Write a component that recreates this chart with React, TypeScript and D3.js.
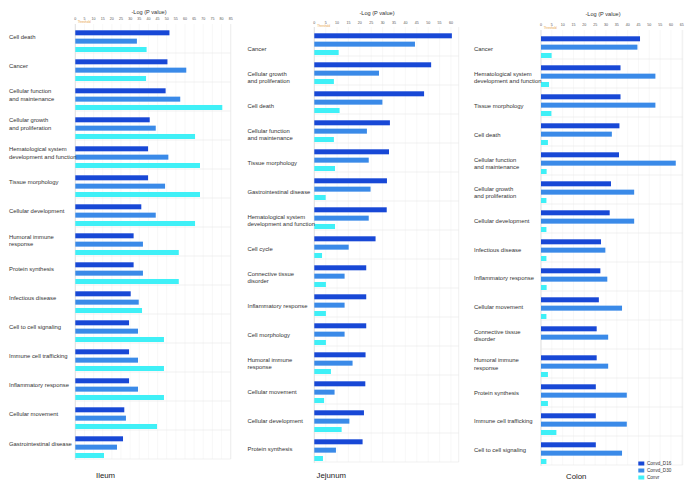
import React from 'react';
import * as d3 from 'd3';

const seriesNames = ['Convd_D16', 'Convd_D30', 'Convr'];
const seriesColors = ['#1848d6', '#3a8ae8', '#3ff0f7'];

const ileumCategories = [
  'Cell death', 'Cancer', 'Cellular function\nand maintenance', 'Cellular growth\nand proliferation',
  'Hematological system\ndevelopment and function', 'Tissue morphology', 'Cellular development',
  'Humoral immune\nresponse', 'Protein synthesis', 'Infectious disease', 'Cell to cell signaling',
  'Immune cell trafficking', 'Inflammatory response', 'Cellular movement', 'Gastrointestinal disease',
];
const ileumD16 = [51.5, 50.4, 49.4, 40.7, 39.8, 39.8, 36.1, 31.9, 31.9, 30.3, 29.4, 29.4, 29.4, 26.8, 26.1];
const ileumD30 = [33.7, 60.7, 57.4, 44.0, 50.9, 49.1, 44.0, 37.0, 37.0, 34.7, 34.3, 34.3, 34.3, 27.7, 22.8];
const ileumConvr = [39.0, 38.7, 80.4, 65.5, 68.2, 68.2, 65.5, 56.6, 56.6, 36.5, 48.5, 48.5, 48.5, 44.7, 15.7];
const ileumTicks = d3.range(0, 86, 5);

const jejunumCategories = [
  'Cancer', 'Cellular growth\nand proliferation', 'Cell death', 'Cellular function\nand maintenance',
  'Tissue morphology', 'Gastrointestinal disease', 'Hematological system\ndevelopment and function',
  'Cell cycle', 'Connective tissue\ndisorder', 'Inflammatory response', 'Cell morphology',
  'Humoral immune\nresponse', 'Cellular movement', 'Cellular development', 'Protein synthesis',
];
const jejunumD16 = [60.4, 51.3, 48.2, 33.2, 32.8, 31.9, 31.8, 26.9, 22.8, 22.8, 22.8, 22.5, 22.4, 21.8, 21.2];
const jejunumD30 = [44.2, 28.4, 29.9, 23.1, 23.9, 24.7, 23.9, 15.1, 13.3, 13.3, 13.3, 16.8, 8.9, 15.4, 9.5];
const jejunumConvr = [10.7, 8.6, 11.1, 8.6, 9.1, 5.0, 9.1, 3.4, 5.1, 5.1, 5.1, 7.3, 4.3, 12.0, 3.8];
const jejunumTicks = d3.range(0, 61, 5);

const colonCategories = [
  'Cancer', 'Hematological system\ndevelopment and function', 'Tissue morphology', 'Cell death',
  'Cellular function\nand maintenance', 'Cellular growth\nand proliferation', 'Cellular development',
  'Infectious disease', 'Inflammatory response', 'Cellular movement', 'Connective tissue\ndisorder',
  'Humoral immune\nresponse', 'Protein synthesis', 'Immune cell trafficking', 'Cell to cell signaling',
];
const colonD16 = [45.7, 36.7, 36.7, 36.2, 36.0, 32.3, 31.7, 27.7, 27.4, 26.7, 25.7, 25.7, 25.3, 25.3, 25.3];
const colonD30 = [44.5, 52.8, 52.8, 32.7, 62.2, 43.0, 43.0, 29.7, 30.6, 37.4, 31.0, 31.0, 39.6, 39.6, 37.4];
const colonConvr = [4.9, 3.7, 4.8, 3.2, 2.6, 2.5, 2.5, 2.5, 2.6, 2.5, 0, 3.2, 3.2, 7.1, 2.5];
const colonTicks = d3.range(0, 66, 5);

const axisTitle = '-Log (P value)';
const thresholdLabel = 'Threshold';
const thresholdValue = 1.3;

const panels = [
  {
    name: 'Ileum', cats: ileumCategories, values: [ileumD16, ileumD30, ileumConvr], ticks: ileumTicks,
    x0: 75.3, x1: 230.7, dMax: 85, top: 24, labelX: 9, labelFirst: 37, labelLast: 443.5,
    titleX: 149, titleY: 12, tickY: 18.5, nameX: 96, nameY: 477.5,
  },
  {
    name: 'Jejunum', cats: jejunumCategories, values: [jejunumD16, jejunumD30, jejunumConvr], ticks: jejunumTicks,
    x0: 314.3, x1: 458.7, dMax: 63.4, top: 27, labelX: 247.5, labelFirst: 49, labelLast: 449.3,
    titleX: 377, titleY: 12.5, tickY: 22.5, nameX: 316.5, nameY: 477.5,
  },
  {
    name: 'Colon', cats: colonCategories, values: [colonD16, colonD30, colonConvr], ticks: colonTicks,
    x0: 541, x1: 682.7, dMax: 65.4, top: 30, labelX: 474, labelFirst: 49, labelLast: 450,
    titleX: 603, titleY: 13.5, tickY: 24.5, nameX: 566, nameY: 478.5,
  },
];

const STEP = 29;
const FONT = '"Liberation Sans", Arial, Helvetica, sans-serif';

function Panel({ p }: { p: typeof panels[number] }) {
  const x = d3.scaleLinear().domain([0, p.dMax]).range([p.x0, p.x1]);
  const n = p.cats.length;
  const y = d3.scaleBand<number>().domain(d3.range(n)).range([p.top, p.top + n * STEP]).padding(0);
  const sub = d3.scaleBand<string>().domain(seriesNames).range([6.3, 28]).paddingInner(0.4).paddingOuter(0);
  const ly = d3.scalePoint<number>().domain(d3.range(n)).range([p.labelFirst, p.labelLast]);
  const bottom = p.top + n * STEP;
  return (
    <g>
      <text x={p.titleX} y={p.titleY} fontSize={5.6} textAnchor="middle" dominantBaseline="central" fill="#333">{axisTitle}</text>
      {p.ticks.map((t) => (
        <g key={t}>
          <line x1={x(t)} x2={x(t)} y1={p.top} y2={bottom} stroke="#f3f3f3" strokeWidth={0.6} />
          <text x={x(t)} y={p.tickY} fontSize={3.6} textAnchor="middle" dominantBaseline="central" fill="#555">{t}</text>
        </g>
      ))}
      <text x={x(thresholdValue)} y={p.tickY + 4.6} fontSize={2.9} fill="#e8a045">{thresholdLabel}</text>
      <line x1={x(0)} x2={x(0)} y1={p.top} y2={bottom + 1} stroke="#d9d9d9" strokeWidth={0.8} />
      <line x1={p.x1} x2={p.x1} y1={p.top} y2={bottom} stroke="#e6e6e6" strokeWidth={0.6} />
      {d3.range(n).map((i) => (
        <line key={'s' + i} x1={p.x0} x2={p.x1} y1={(y(i) as number) + STEP} y2={(y(i) as number) + STEP} stroke="#e8e8e8" strokeWidth={0.6} />
      ))}
      {d3.range(n).map((i) =>
        seriesNames.map((s, k) => {
          const v = p.values[k][i];
          if (!v) return null;
          return (
            <rect key={i + s} x={x(0)} y={(y(i) as number) + (sub(s) as number)} width={x(v) - x(0)} height={sub.bandwidth()} fill={seriesColors[k]} />
          );
        })
      )}
      {p.cats.map((c, i) => {
        const lines = c.split('\n');
        const cy = ly(i) as number;
        const lh = 7.3;
        return (
          <text key={c} x={p.labelX} fontSize={5.9} fill="#333">
            {lines.map((l, j) => (
              <tspan key={j} x={p.labelX} y={cy + (j - (lines.length - 1) / 2) * lh} dominantBaseline="central">{l}</tspan>
            ))}
          </text>
        );
      })}
      <text x={p.nameX} y={p.nameY} fontSize={7.8} fill="#222">{p.name}</text>
    </g>
  );
}

export default function App() {
  const legendY = [463.5, 470.5, 477.5];
  return (
    <svg width={691} height={491} style={{ position: 'absolute', left: 0, top: 0, background: '#fff', fontFamily: FONT }}>
      <rect x={0} y={0} width={691} height={491} fill="#fff" />
      {panels.map((p) => <Panel key={p.name} p={p} />)}
      {seriesNames.map((s, k) => (
        <g key={s}>
          <rect x={638.3} y={legendY[k] - 2} width={6} height={4} fill={seriesColors[k]} />
          <text x={647} y={legendY[k]} fontSize={4.6} dominantBaseline="central" fill="#333">{s}</text>
        </g>
      ))}
    </svg>
  );
}
